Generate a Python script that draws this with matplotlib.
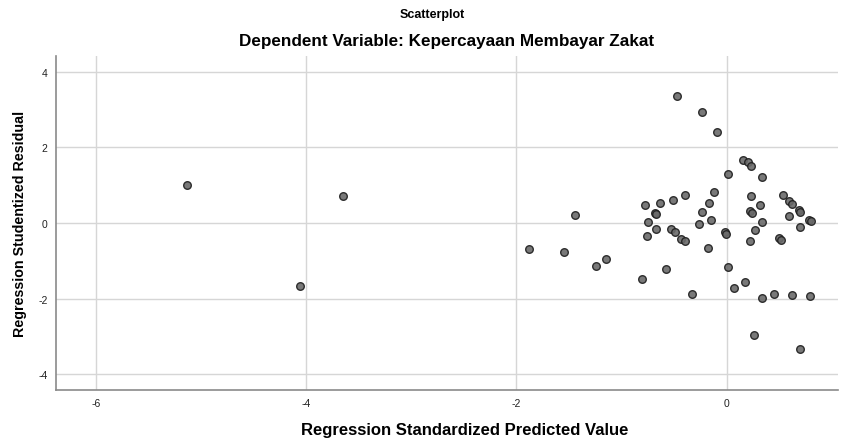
import matplotlib
matplotlib.use('Agg')
import matplotlib.pyplot as plt
import numpy as np

# Regression standardized predicted value vs studentized residual
pred = [-5.13, -4.06, -3.65, -1.44, -1.88, -1.55, -1.24, -1.15, -0.81, -0.78,
        -0.68, -0.67, -0.75, -0.67, -0.76, -0.63, -0.51, -0.40, -0.12, -0.17,
        -0.23, -0.15, -0.26, -0.53, -0.49, -0.43, -0.40, -0.18, -0.58, -0.33,
        0.01, 0.07, 0.17, 0.34, 0.45, 0.62, 0.79, 0.26, 0.70, -0.47,
        -0.23, -0.09, 0.01, 0.155, 0.20, 0.235, 0.34, 0.23, 0.32, 0.225,
        0.24, 0.34, 0.27, 0.22, -0.02, -0.01, 0.54, 0.59, 0.62, 0.69,
        0.70, 0.59, 0.78, 0.80, 0.70, 0.50, 0.52]
resid = [1.01, -1.67, 0.71, 0.21, -0.70, -0.77, -1.15, -0.95, -1.49, 0.49,
         0.27, 0.23, 0.03, -0.16, -0.35, 0.53, 0.61, 0.73, 0.81, 0.54,
         0.28, 0.07, -0.03, -0.16, -0.23, -0.41, -0.48, -0.65, -1.22, -1.88,
         -1.16, -1.71, -1.55, -1.98, -1.88, -1.90, -1.94, -2.97, -3.33, 3.35,
         2.93, 2.40, 1.30, 1.67, 1.62, 1.52, 1.23, 0.71, 0.49, 0.32,
         0.27, 0.03, -0.19, -0.47, -0.24, -0.28, 0.73, 0.58, 0.51, 0.34,
         0.30, 0.18, 0.08, 0.06, -0.11, -0.40, -0.44]

x_ticks = [-6, -4, -2, 0]
y_ticks = [-4, -2, 0, 2, 4]

plt.rcParams['font.family'] = ['Liberation Sans', 'DejaVu Sans']
plt.rcParams['axes.unicode_minus'] = False

fig = plt.figure(figsize=(8.64, 4.39), dpi=100)
ax = fig.add_axes([0.0648, 0.1093, 0.9052, 0.7607])

ax.scatter(pred, resid, s=30, facecolor='#6a6a6a', edgecolor='#1e1e1e',
           linewidth=1.0, alpha=0.9, zorder=3)

ax.set_xlim(-6.38, 1.06)
ax.set_ylim(-4.42, 4.42)
ax.set_xticks(x_ticks)
ax.set_yticks(y_ticks)
ax.tick_params(axis='both', length=0, labelsize=7.5, colors='#222222', pad=6)
ax.grid(True, color='#d6d6d6', linewidth=1.0, zorder=0)
ax.set_axisbelow(True)

for side in ['top', 'right']:
    ax.spines[side].set_visible(False)
for side in ['left', 'bottom']:
    ax.spines[side].set_color('#8a8a8a')
    ax.spines[side].set_linewidth(1.2)

ax.set_xlabel('Regression Standardized Predicted Value', fontsize=12,
              fontweight='bold')
ax.xaxis.set_label_coords(0.522, -0.097)
ax.set_ylabel('Regression Studentized Residual', fontsize=10.3,
              fontweight='bold', labelpad=8)

fig.text(0.5, 0.965, 'Scatterplot', ha='center', va='center',
         fontsize=9, fontweight='bold')
fig.text(0.517, 0.905, 'Dependent Variable: Kepercayaan Membayar Zakat',
         ha='center', va='center', fontsize=12.3, fontweight='bold')

fig.savefig('out.png', dpi=100)
